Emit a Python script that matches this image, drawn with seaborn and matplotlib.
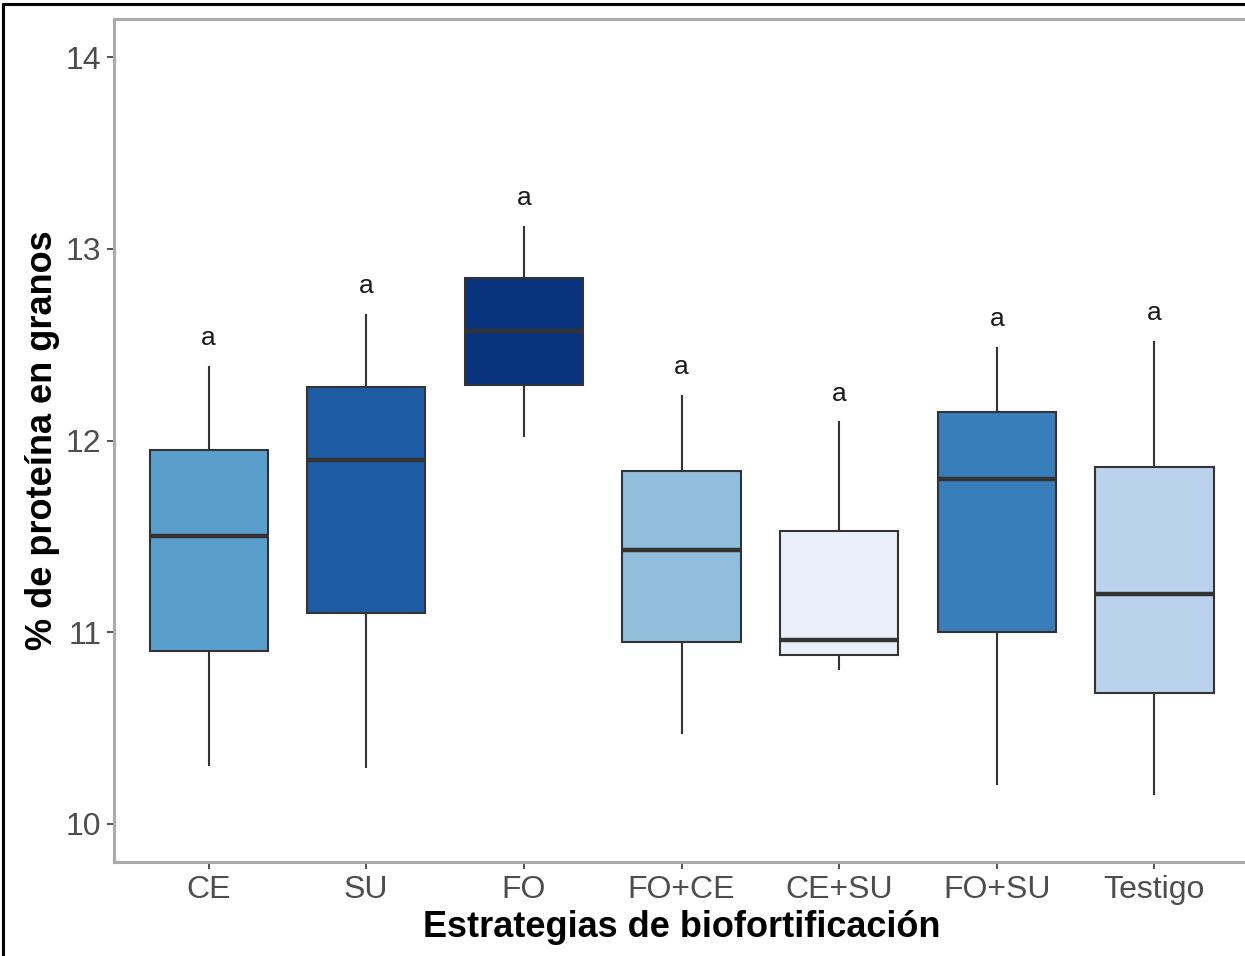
import numpy as np
import pandas as pd
import seaborn as sns
import matplotlib.pyplot as plt
from matplotlib.lines import Line2D

# datos
estrategias = ["CE", "SU", "FO", "FO+CE", "CE+SU", "FO+SU", "Testigo"]
minimos = [10.30, 10.29, 12.02, 10.47, 10.80, 10.20, 10.15]
q1 = [10.90, 11.10, 12.29, 10.95, 10.88, 11.00, 10.68]
medianas = [11.50, 11.90, 12.57, 11.43, 10.96, 11.80, 11.20]
q3 = [11.95, 12.28, 12.85, 11.84, 11.53, 12.15, 11.86]
maximos = [12.39, 12.66, 13.12, 12.24, 12.10, 12.49, 12.52]
letras = ["a", "a", "a", "a", "a", "a", "a"]
colores = ["#5A9FCC", "#1D5CA5", "#0A337E", "#91BEDB", "#E9F0FC", "#387EBA", "#BAD2EB"]

# tabla larga: con 5 puntos por grupo los cuartiles coinciden con los valores
filas = []
for i, e in enumerate(estrategias):
    for v in [minimos[i], q1[i], medianas[i], q3[i], maximos[i]]:
        filas.append({"estrategia": e, "proteina": v})
df = pd.DataFrame(filas)

sns.set_style("white")
plt.rcParams["font.family"] = ["Liberation Sans", "DejaVu Sans"]

fig = plt.figure(figsize=(12.45, 9.56), dpi=100)
ax = fig.add_axes([0.0916, 0.0983, 0.9116, 0.8818])

sns.boxplot(data=df, x="estrategia", y="proteina", hue="estrategia",
            order=estrategias, hue_order=estrategias,
            palette=dict(zip(estrategias, colores)), legend=False,
            saturation=1, whis=np.inf, showcaps=False, width=0.75,
            linecolor="#333333", linewidth=1.5,
            medianprops={"linewidth": 3.2, "color": "#333333"}, ax=ax)

for i, l in enumerate(letras):
    ax.text(i, maximos[i] + 0.145, l, ha="center", va="center",
            fontsize=19, color="#1a1a1a")

ax.set_xlim(-0.6, 6.6)
ax.set_ylim(9.80, 14.20)
ax.set_yticks([10, 11, 12, 13, 14])

for s in ["left", "top", "bottom"]:
    ax.spines[s].set_color("#AAAAAA")
    ax.spines[s].set_linewidth(2.2)
ax.spines["right"].set_visible(False)

ax.tick_params(axis="both", labelsize=23, labelcolor="#4D4D4D", color="#333333",
               length=5, width=1.2, left=True, bottom=True, pad=4)

ax.set_xlabel("Estrategias de biofortificación", fontsize=26, fontweight="bold",
              color="black", labelpad=4)
ax.set_ylabel("% de proteína en granos", fontsize=26, fontweight="bold",
              color="black", labelpad=4)

# marco negro de la captura
fig.add_artist(Line2D([3 / 1245, 3 / 1245], [0, 1 - 4 / 956], color="black",
                      linewidth=2.2, transform=fig.transFigure))
fig.add_artist(Line2D([3 / 1245, 1], [1 - 4 / 956, 1 - 4 / 956], color="black",
                      linewidth=2.2, transform=fig.transFigure))

fig.savefig("out.png", dpi=100)
